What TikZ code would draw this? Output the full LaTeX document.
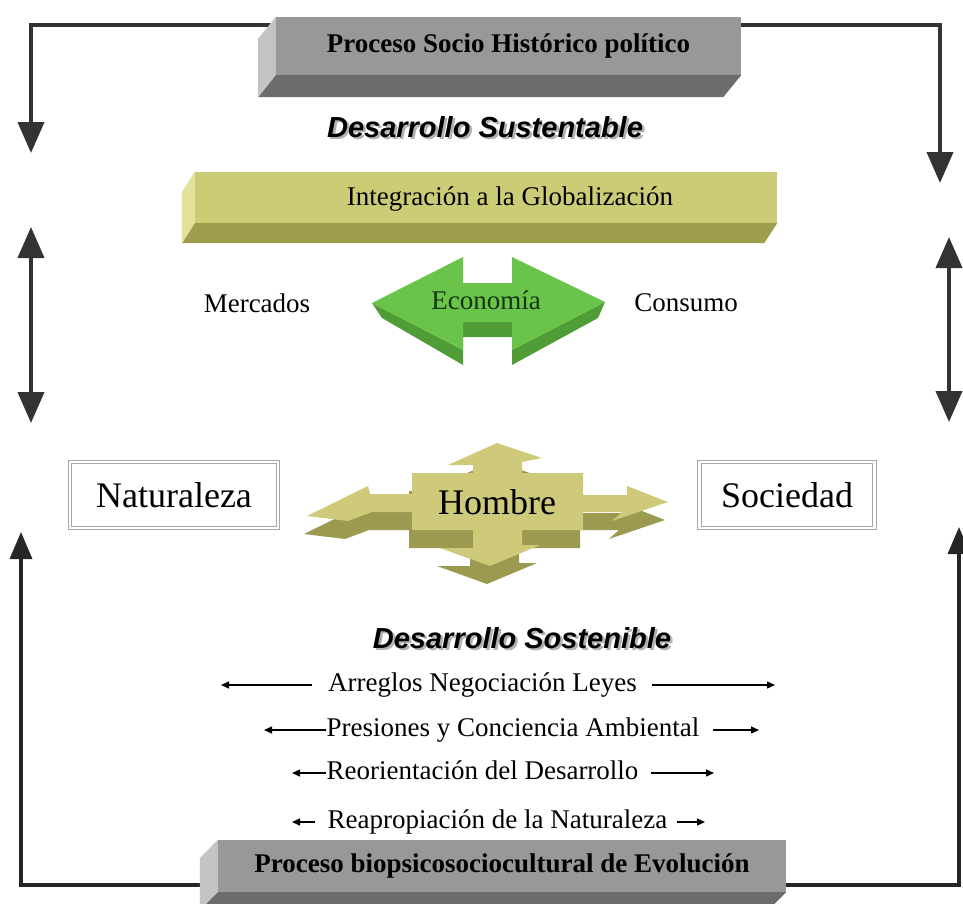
\documentclass[tikz,border=0pt]{standalone}
\usepackage{fontspec}
\setmainfont{Liberation Serif}
\newfontfamily\titlefont{Liberation Sans}
\usetikzlibrary{arrows.meta}
\definecolor{boxgray}{RGB}{152,152,152}
\definecolor{boxlight}{RGB}{196,196,196}
\definecolor{boxdark}{RGB}{108,108,108}
\definecolor{barolive}{RGB}{204,204,118}
\definecolor{barolight}{RGB}{226,226,152}
\definecolor{bardark}{RGB}{160,158,78}
\definecolor{ecogreen}{RGB}{106,196,74}
\definecolor{ecodark}{RGB}{80,156,54}
\definecolor{ecotext}{RGB}{22,52,22}
\definecolor{hombrefront}{RGB}{206,202,122}
\definecolor{hombredark}{RGB}{156,153,80}
\begin{document}
\begin{tikzpicture}[x=1pt, y=-1pt, font=\fontsize{27}{32}\selectfont,
  frame/.style={line width=4pt, draw=black!80, >={Triangle[width=26pt,length=31pt]}},
  framelow/.style={line width=3.5pt, draw=black!85, >={Triangle[width=22pt,length=27pt]}},
  thinarrow/.style={line width=1.3pt, -{Triangle[length=8pt,width=7pt]}},
  procbox/.style={fill=boxgray, inner sep=0pt, font=\fontsize{27}{32}\selectfont\bfseries},
  oliveface/.style={fill=barolive, inner sep=0pt},
  conceptbox/.style={draw=black!35, double=white, double distance=2.5pt, line width=0.9pt,
    fill=white, minimum height=66pt, font=\fontsize{36}{40}\selectfont},
  titletext/.style={font=\titlefont\fontsize{29}{34}\selectfont\bfseries\itshape},
  linetext/.style={inner xsep=0pt, anchor=mid},
  hombrecross/.pic={
    \path[pic actions] (307,516) -- (368,486) -- (370,494) -- (412,494) -- (412,473)
      -- (473,473) -- (473,465) -- (448,465) -- (497,443) -- (542,458) -- (522,462)
      -- (522,473) -- (583,473) -- (583,495) -- (627,495) -- (627,486) -- (668,502)
      -- (612,521) -- (622,512) -- (583,512) -- (583,530) -- (522,530) -- (522,545)
      -- (540,545) -- (490,566) -- (440,548) -- (473,548) -- (473,530) -- (412,530)
      -- (412,512) -- (372,512) -- (348,521) -- cycle;
  }]
  \useasboundingbox (0,0) rectangle (963,903);
  \clip (0,0) rectangle (963,903);
  \fill[white] (0,0) rectangle (963,903);

  % Define frame points
  \coordinate (ltip) at (31,153);
  \coordinate (rtip) at (940,183);
  \coordinate (ctop) at (508,25);
  \coordinate (lup) at (31,227);
  \coordinate (ldown) at (31,423);
  \coordinate (rup) at (949,237);
  \coordinate (rdown) at (949,422);
  \coordinate (lbtip) at (21,532);
  \coordinate (rbtip) at (959,527);
  \coordinate (cbot) at (502,885);

  % Draw frame arrows
  \draw[frame,<->] (ltip) |- (ctop) -| (rtip);
  \draw[frame,<->] (lup) -- (ldown);
  \draw[frame,<->] (rup) -- (rdown);
  \draw[framelow,<->] (lbtip) |- (cbot) -| (rbtip);

  % Top process box
  \node[procbox, minimum width=465pt, minimum height=58pt] (sociohist) at (508.5,46) {Proceso Socio Histórico político};
  \fill[boxlight] (sociohist.north west) -- (sociohist.south west) -- ++(-18,22) -- ++(0,-58) -- cycle;
  \fill[boxdark] (sociohist.south west) -- (sociohist.south east) -- ++(-18,22) -- ++(-465,0) -- cycle;

  % Titles
  \node[titletext, text=black!30] (sustshadow) at (487.5,129.5) {Desarrollo Sustentable};
  \node[titletext] (sustentable) at (485,127) {Desarrollo Sustentable};

  % Globalization bar
  \node[oliveface, minimum width=582pt, minimum height=51pt] (globbar) at (486,197.5) {};
  \fill[barolight] (globbar.north west) -- (globbar.south west) -- ++(-13,20) -- ++(0,-51) -- cycle;
  \fill[bardark] (globbar.south west) -- (globbar.south east) -- ++(-13,20) -- ++(-582,0) -- cycle;
  \node (integracion) at (510,199) {Integración a la Globalización};

  % Economy arrow
  \fill[ecodark] (372,303) -- (382,318) -- (463,365) -- (463,337) -- (512,337) -- (512,365)
    -- (598,318) -- (605,302) -- (512,350) -- (512,322) -- (463,322) -- (463,350) -- cycle;
  \fill[ecogreen] (372,303) -- (463,257) -- (463,283) -- (512,283) -- (512,257) -- (605,302)
    -- (512,350) -- (512,322) -- (463,322) -- (463,350) -- cycle;
  \node[text=ecotext] (economia) at (486,300) {Economía};
  \node (mercados) at (257,303) {Mercados};
  \node (consumo) at (686,303) {Consumo};

  % Man, nature and society
  \pic[fill=hombredark] at (-3,18) {hombrecross};
  \pic[fill=hombrefront] at (0,0) {hombrecross};
  \node[font=\fontsize{36}{40}\selectfont] (hombre) at (497,502) {Hombre};
  \node[conceptbox, minimum width=208pt] (naturaleza) at (174,495) {Naturaleza};
  \node[conceptbox, minimum width=175pt] (sociedad) at (787,495) {Sociedad};

  % Sustainable development lines
  \node[titletext, text=black!30] (sostshadow) at (524.5,640.5) {Desarrollo Sostenible};
  \node[titletext] (sostenible) at (522,638) {Desarrollo Sostenible};
  \node[linetext] (arreglos) at (482.5,689) {Arreglos Negociación Leyes};
  \node[linetext] (presiones) at (513,734) {Presiones y Conciencia Ambiental};
  \node[linetext] (reorientacion) at (482.5,777) {Reorientación del Desarrollo};
  \node[linetext] (reapropiacion) at (497.5,826) {Reapropiación de la Naturaleza};
  \coordinate (arreglosL) at (221,685);
  \coordinate (arreglosR) at (775,685);
  \coordinate (presionesL) at (264,730);
  \coordinate (presionesR) at (759,730);
  \coordinate (reorientacionL) at (292,773);
  \coordinate (reorientacionR) at (714,773);
  \coordinate (reapropiacionL) at (292,822);
  \coordinate (reapropiacionR) at (705,822);
  \draw[thinarrow] ([shift={(-16pt,4pt)}]arreglos.mid west) -- (arreglosL);
  \draw[thinarrow] ([shift={(15pt,4pt)}]arreglos.mid east) -- (arreglosR);
  \draw[thinarrow] ([yshift=4pt]presiones.mid west) -- (presionesL);
  \draw[thinarrow] ([shift={(13pt,4pt)}]presiones.mid east) -- (presionesR);
  \draw[thinarrow] ([yshift=4pt]reorientacion.mid west) -- (reorientacionL);
  \draw[thinarrow] ([shift={(12pt,4pt)}]reorientacion.mid east) -- (reorientacionR);
  \draw[thinarrow] ([shift={(-13pt,4pt)}]reapropiacion.mid west) -- (reapropiacionL);
  \draw[thinarrow] ([shift={(10pt,4pt)}]reapropiacion.mid east) -- (reapropiacionR);

  % Bottom process box
  \node[procbox, minimum width=568pt, minimum height=52pt] (evolucion) at (502,866) {Proceso biopsicosociocultural de Evolución};
  \fill[boxlight] (evolucion.north west) -- (evolucion.south west) -- ++(-18,18) -- ++(0,-52) -- cycle;
  \fill[boxdark] (evolucion.south west) -- (evolucion.south east) -- ++(-18,18) -- ++(-568,0) -- cycle;

\end{tikzpicture}
\end{document}
